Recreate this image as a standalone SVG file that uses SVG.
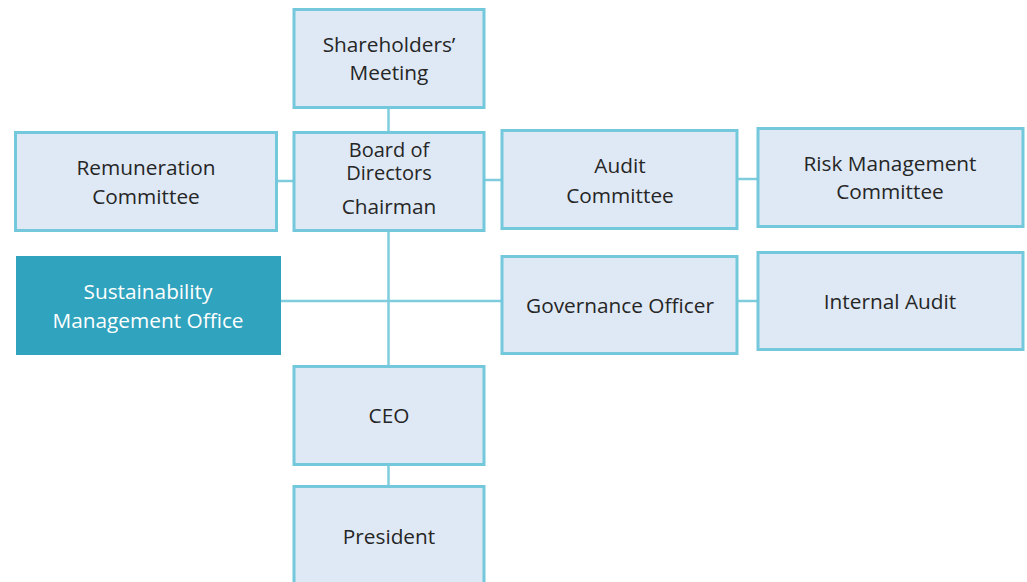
<svg xmlns="http://www.w3.org/2000/svg" width="1027" height="582" viewBox="0 0 1027 582">
<style>
.box{fill:#DEE9F5;stroke:#74C8DB;stroke-width:3}
.hl{fill:#30A3BE}
.t{font-family:"Open Sans","Liberation Sans",sans-serif;font-size:20.8px;fill:#262626;text-anchor:middle}
.w{fill:#FFFFFF}
.c{stroke:#7ECCDE;stroke-width:2.5;fill:none}
</style>
<rect width="1027" height="582" fill="#FFFFFF"/>
<g id="connectors">
<line class="c" x1="388.5" y1="107" x2="388.5" y2="132"/>
<line class="c" x1="388.5" y1="230" x2="388.5" y2="366"/>
<line class="c" x1="388.5" y1="465" x2="388.5" y2="486"/>
<line class="c" x1="277" y1="181" x2="294" y2="181"/>
<line class="c" x1="484" y1="180" x2="502" y2="180"/>
<line class="c" x1="737" y1="179" x2="758" y2="179"/>
<line class="c" x1="281" y1="301" x2="502" y2="301"/>
<line class="c" x1="737" y1="301" x2="758" y2="301"/>
</g>
<g id="shareholders">
<rect class="box" x="294" y="9.5" width="190" height="98"/>
<text class="t" x="389" y="52">Shareholders’</text>
<text class="t" x="389" y="80">Meeting</text>
</g>
<g id="board">
<rect class="box" x="294" y="132.5" width="190" height="98"/>
<text class="t" x="389" y="157" style="font-size:20px">Board of</text>
<text class="t" x="389" y="180" style="font-size:20px">Directors</text>
<text class="t" x="389" y="214">Chairman</text>
</g>
<g id="remuneration">
<rect class="box" x="15.5" y="132.5" width="261" height="98"/>
<text class="t" x="146" y="175">Remuneration</text>
<text class="t" x="146" y="204">Committee</text>
</g>
<g id="audit">
<rect class="box" x="502" y="130.5" width="235" height="98"/>
<text class="t" x="620" y="173">Audit</text>
<text class="t" x="620" y="203">Committee</text>
</g>
<g id="risk">
<rect class="box" x="758" y="128.5" width="265" height="98"/>
<text class="t" x="890" y="171">Risk Management</text>
<text class="t" x="890" y="199">Committee</text>
</g>
<g id="sustainability">
<rect class="hl" x="16" y="256" width="265" height="99"/>
<text class="t w" x="148" y="299">Sustainability</text>
<text class="t w" x="148" y="328">Management Office</text>
</g>
<g id="governance">
<rect class="box" x="502" y="256.5" width="235" height="97"/>
<text class="t" x="620" y="313">Governance Officer</text>
</g>
<g id="internal-audit">
<rect class="box" x="758" y="252.5" width="265" height="97"/>
<text class="t" x="890" y="309">Internal Audit</text>
</g>
<g id="ceo">
<rect class="box" x="294" y="366.5" width="190" height="98"/>
<text class="t" x="389" y="423">CEO</text>
</g>
<g id="president">
<rect class="box" x="294" y="486.5" width="190" height="100"/>
<text class="t" x="389" y="544">President</text>
</g>
</svg>
